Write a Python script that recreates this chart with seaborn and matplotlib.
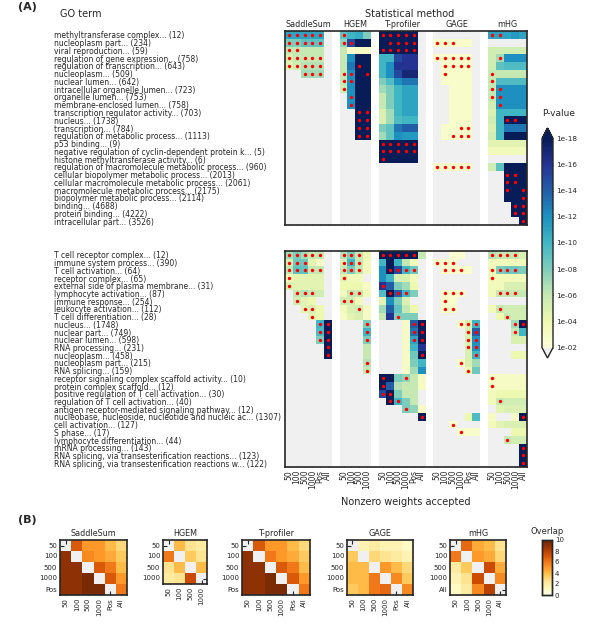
import numpy as np
import matplotlib
matplotlib.use("Agg")
import matplotlib.pyplot as plt
import seaborn as sns

# ---------------------------------------------------------------- data
# scores are -log10(P); 0 = not significant (grey); '*' = marked significant
methods = ["SaddleSum", "HGEM", "T-profiler", "GAGE", "mHG"]
settings = {
    "SaddleSum": ["50", "100", "500", "1000", "Pos", "All"],
    "HGEM": ["50", "100", "500", "1000"],
    "T-profiler": ["50", "100", "500", "1000", "Pos", "All"],
    "GAGE": ["50", "100", "500", "1000", "Pos", "All"],
    "mHG": ["50", "100", "500", "1000", "All"],
}

top_terms = [
    "methyltransferase complex... (12)", "nucleoplasm part... (234)",
    "viral reproduction... (59)", "regulation of gene expression... (758)",
    "regulation of transcription... (643)", "nucleoplasm... (509)",
    "nuclear lumen... (642)", "intracellular organelle lumen... (723)",
    "organelle lumen... (753)", "membrane-enclosed lumen... (758)",
    "transcription regulator activity... (703)", "nucleus... (1738)",
    "transcription... (784)", "regulation of metabolic process... (1113)",
    "p53 binding... (9)",
    "negative regulation of cyclin-dependent protein k... (5)",
    "histone methyltransferase activity... (6)",
    "regulation of macromolecule metabolic process... (960)",
    "cellular biopolymer metabolic process... (2013)",
    "cellular macromolecule metabolic process... (2061)",
    "macromolecule metabolic process... (2175)",
    "biopolymer metabolic process... (2114)", "binding... (4688)",
    "protein binding... (4222)", "intracellular part... (3526)",
]

top_saddlesum = [
    "11* 11* 11* 11* 11* 0", "8* 8* 9* 9* 9* 0", "6* 6* 6 6 6 0",
    "5* 6* 6* 6* 6* 0", "4.5* 5.5* 6.5* 6.5* 6.5* 0", "0 0 7* 7* 7* 0",
] + ["0 0 0 0 0 0"] * 19
top_hgem = [
    "9* 10 10.5 8", "7.5* 15* 18 18", "6 2.5 3 3", "6 12 18 18",
    "6 13 18* 18", "6* 12* 18 18*", "6* 12* 18 18", "5.5* 12 18 18",
    "0 12* 18 18", "0 12* 18 18", "0 0 18* 18*", "0 0 18* 18*",
    "0 0 18* 18*", "0 0 18* 18*",
] + ["0 0 0 0"] * 11
top_tprofiler = [
    "18* 18* 18* 18* 18* 0", "18 18* 18* 18* 18* 0", "18* 18* 18* 18* 18* 0",
    "10 10 15 16 16 0", "10 12 16 16 16 0", "10 12 15 17 17 0",
    "8 9.5 12 13 13 0", "7 8 10 11 11 0", "6 8 10 11 11 0",
    "6 8 10 11 11 0", "5 7 10 11 11 0", "5 7 9.5 10 10 0",
    "8 9 13 14 14 0", "7 9 12 11.5 11.5 0", "18* 18* 18* 18* 18* 0",
    "18* 18* 18* 18* 18* 0", "18* 18 18 18 18 0",
] + ["0 0 0 0 0 0"] * 8
top_gage = [
    "0 0 0 0 0 0", "2.8* 2.8* 2.8* 2.8 2.8 0", "0 0 0 0 0 0",
    "2.8* 2.8* 2.8* 2.8* 2.8* 0", "0 2.8* 2.8* 2.8* 2.8* 0", "0 2.8* 2.8 2.8 2.8 0",
    "0 2.8 2.8 2.8 2.8 0", "0 0 2.8 2.8 2.8 0", "0 0 2.8 2.8 2.8 0",
    "0 0 2.8 2.8 2.8 0", "0 0 2.8 2.8 2.8 0", "0 0 2.8 2.8 2.8 0",
    "0 2.8 2.8 2.8* 2.8* 0", "0 2.8 2.8* 2.8* 2.8* 0", "0 0 0 0 0 0",
    "0 0 0 0 0 0", "0 0 0 0 0 0", "2.8* 2.8* 2.8* 2.8* 2.8* 0",
] + ["0 0 0 0 0 0"] * 7
top_mhg = [
    "11* 11* 11 11.5 11", "0 0 0 0 0", "5.5 5.5 5.5 5.5 5.5",
    "5.5 7* 12 12 12", "5.5 9 9.5 9.5 9.5", "6* 6 6 6 6",
    "6* 9.5 9.5 9.5 9.5", "6* 12* 12 12 12", "6* 12* 12 12 12",
    "5.5 12* 12 12 12", "5 10 10 10 10", "5.5 10 18* 18* 18",
    "5 10 13 13 13", "5.5 10 18 18 18", "4.5 4.5 4.5 4.5 4.5",
    "3.5 3.5 3.5 3.5 3.5", "0 0 0 0 0", "5.5 9 18 18 18",
    "0 0 18* 18* 18", "0 0 18* 18* 18", "0 0 18* 18 18*",
    "0 0 18 18 18*", "0 0 0 18* 18*", "0 0 0 18* 18*", "0 0 0 0 18*",
]

bottom_terms = [
    "T cell receptor complex... (12)", "immune system process... (390)",
    "T cell activation... (64)", "receptor complex... (65)",
    "external side of plasma membrane... (31)", "lymphocyte activation... (87)",
    "immune response... (254)", "leukocyte activation... (112)",
    "T cell differentiation... (28)", "nucleus... (1748)",
    "nuclear part... (749)", "nuclear lumen... (598)",
    "RNA processing... (231)", "nucleoplasm... (458)",
    "nucleoplasm part... (215)", "RNA splicing... (159)",
    "receptor signaling complex scaffold activity... (10)",
    "protein complex scaffold... (12)",
    "positive regulation of T cell activation... (30)",
    "regulation of T cell activation... (40)",
    "antigen receptor-mediated signaling pathway... (12)",
    "nucleobase, nucleoside, nucleotide and nucleic ac... (1307)",
    "cell activation... (127)", "S phase... (17)",
    "lymphocyte differentiation... (44)", "mRNA processing... (143)",
    "RNA splicing, via transesterification reactions... (123)",
    "RNA splicing, via transesterification reactions w... (122)",
]

bottom_saddlesum = [
    "7* 8* 7* 6* 6* 0", "5* 8.5* 8.5* 4.5 3 0", "6* 9* 9* 6* 6* 0",
    "3.5* 4.5 4.5 4.5 4.5 0", "5* 4.5 4.5 4.5 4.5 0", "0 6* 6.5* 6* 5.5 0",
    "0 5.5* 4.5 4 0 0", "0 0 4.5* 5* 4 0", "0 0 0 4.5* 4 0",
    "0 0 0 0 10* 18*", "0 0 0 0 9.5* 18*", "0 0 0 0 8* 18*",
    "0 0 0 0 0 18*", "0 0 0 0 0 18*",
] + ["0 0 0 0 0 0"] * 14
bottom_hgem = [
    "6.5* 8* 6* 4", "5* 10* 6* 3.5", "6* 8* 6* 3.5", "4.5* 3.5 3.5 0",
    "4 4 4 3", "3.5 6* 6* 3.5", "5.5* 5.5* 3.5 0", "3.5 5 5.5* 3",
    "3 4.5 5 3", "0 0 0 8*", "0 0 0 10*", "0 0 0 8*", "0 0 0 6",
    "0 0 0 6", "0 0 0 6.5*", "0 0 0 6*",
] + ["0 0 0 0"] * 12
bottom_tprofiler = [
    "18* 18* 18* 18* 18* 6", "10 18 10 6 3.5 0", "12 18* 15* 10* 8.5* 0",
    "12 10 5 5 3.5 0", "16* 14 8 7 4 0", "9.5 18* 14* 10* 8 0",
    "4.5 12 8 5 0 0", "7 14 9 6 4 0", "6 16 8* 8 8 0",
    "0 0 0 3 14* 18*", "0 0 0 3 13* 18*", "0 0 0 3 11* 18*",
    "0 0 0 3 10 16", "0 0 0 3 8.5 18*", "0 0 0 3 8 10",
    "0 0 0 3 7 12", "18* 18 8 7.5* 6 3", "18* 14 6.5 6 6 3",
    "15* 18* 8 6 6 0", "0 18* 10* 8 6 0", "0 0 0 8* 7.5 3",
    "0 0 0 0 0 18*",
] + ["0 0 0 0 0 0"] * 6
bottom_gage = [
    "0 0 2.5 2.5 0 0", "2.8* 2.8* 2.8* 0 0 0", "0 2.8* 2.8* 2.8* 2.8 0",
    "0 0 0 0 0 0", "0 0 0 0 0 0", "0 2.8* 2.8* 2.8* 0 0",
    "0 2.8* 2.8 0 0 0", "0 2.8* 2.8* 0 0 0", "0 0 0 0 0 0",
    "0 0 0 2.8* 5* 10*", "0 0 0 0 5* 14*", "0 0 0 0 5* 12*",
    "0 0 0 0 5* 12*", "0 0 0 0 5 10*", "0 0 0 2.8* 5 7",
    "0 0 0 0 4* 8.5", "0 0 0 0 0 0", "0 0 0 0 0 0",
    "0 0 0 0 0 0", "0 0 0 0 0 0", "0 0 0 0 0 0",
    "0 0 0 0 4 9.5", "0 0 2.8* 0 0 0", "0 0 0 2.8* 2.8 2.8",
] + ["0 0 0 0 0 0"] * 4
bottom_mhg = [
    "6.5* 6* 6* 6* 5", "3.5 3.5 3.5 3.5 3.5", "3.5* 8* 8.5* 8.5* 8",
    "3.5* 3.5 3.5 3.5 3.5", "3.5 3.5 5 5 5", "3.5 6* 6* 6* 6",
    "0 0 0 0 0", "3.5 6* 5.5 5.5 5.5", "0 4 6* 5.5 5.5",
    "0 0 0 7* 18*", "0 0 0 6* 10", "0 0 0 5 5",
    "0 0 0 0 0", "0 0 0 4 4", "0 0 0 0 0", "0 0 0 0 0",
    "3* 3 3 3 3", "3* 3 3 3 3", "3.5 4 4 4 4",
    "3.5 6* 5.5 5.5 5.5", "0 4.5 5 5 5", "3 0 0 3 18*",
    "3.5 4.5 5 5 5", "0 0 0 4 4", "0 0 6* 5.5 5.5",
    "0 0 0 0 18*", "0 0 0 0 18*", "0 0 0 0 18*",
]

# overlap of top-10 term lists between settings (diagonal blank)
nan = np.nan
overlap_saddlesum = [
    [nan, 7, 5, 5, 4, 3],
    [9, nan, 5.5, 5, 4.5, 3.5],
    [9, 9, nan, 7, 6, 4],
    [9, 9, 9.5, nan, 7, 5],
    [9, 9, 9.5, 9.5, nan, 6],
]
overlap_hgem = [
    [nan, 4, 2.5, 2],
    [6, nan, 3.5, 2.5],
    [2.5, 4, nan, 4],
    [2, 2.5, 7.5, nan],
]
overlap_tprofiler = [
    [nan, 7, 5, 5, 4, 3],
    [9, nan, 6, 5, 4.5, 3.5],
    [9, 9, nan, 7, 6, 4],
    [9, 9, 9.5, nan, 7, 5],
    [9, 9, 9.5, 9.5, nan, 6],
]
overlap_gage = [
    [nan, 1.5, 2, 1.5, 1.5, 1],
    [3.5, nan, 3, 2.5, 2, 1.5],
    [4, 4, nan, 5, 4, 3],
    [4, 4, 6, nan, 5.5, 3.5],
    [3.5, 4, 6, 6.5, nan, 5.5],
]
overlap_mhg = [
    [nan, 6.5, 4.5, 4, 2.5],
    [6, nan, 5, 4.5, 3],
    [2, 3.5, nan, 7.5, 4.5],
    [1.5, 2.5, 7.5, nan, 5.5],
    [1, 2, 5.5, 8, nan],
]


def parse(rows):
    vals = [[float(t.rstrip("*")) for t in r.split()] for r in rows]
    marks = [[t.endswith("*") for t in r.split()] for r in rows]
    return np.array(vals), np.array(marks)


def assemble(blocks):
    # put method blocks side by side with one blank column between them
    vals, marks = [], []
    for i, rows in enumerate(blocks):
        v, m = parse(rows)
        if i > 0:
            vals.append(np.full((len(v), 1), np.nan))
            marks.append(np.zeros((len(v), 1), bool))
        vals.append(v)
        marks.append(m)
    return np.hstack(vals), np.hstack(marks)


# ---------------------------------------------------------------- figure
W, H = 602, 628
fig = plt.figure(figsize=(W / 100, H / 100), dpi=100)
sns.set_style("white")
plt.rcParams["font.family"] = ["DejaVu Sans"]


def box(x0, y0, x1, y1):
    return [x0 / W, 1 - y1 / H, (x1 - x0) / W, (y1 - y0) / H]


pcmap = plt.get_cmap("YlGnBu").copy()
pcmap.set_under("#f0f0f0")
pcmap.set_over("#081d58")

# column bookkeeping
col_labels, col_pos, centers = [], [], []
x = 0
for m in methods:
    n = len(settings[m])
    centers.append(x + n / 2)
    col_labels += settings[m]
    col_pos += list(np.arange(x, x + n) + 0.5)
    x += n + 1

cax = fig.add_axes(box(542, 128, 553, 358))
panels = [
    (top_terms, [top_saddlesum, top_hgem, top_tprofiler, top_gage, top_mhg], (285, 31, 527, 225)),
    (bottom_terms, [bottom_saddlesum, bottom_hgem, bottom_tprofiler, bottom_gage, bottom_mhg], (285, 251, 527, 467)),
]
for k, (terms, blocks, pos) in enumerate(panels):
    ax = fig.add_axes(box(*pos))
    vals, marks = assemble(blocks)
    sns.heatmap(vals, ax=ax, cmap=pcmap, vmin=2, vmax=18,
                cbar=(k == 0), cbar_ax=cax if k == 0 else None,
                cbar_kws={"extend": "both", "ticks": np.arange(2, 19, 2)},
                xticklabels=False, yticklabels=False)
    ys, xs = np.where(marks)
    ax.scatter(xs + 0.5, ys + 0.5, s=6, c="red", linewidths=0, zorder=3)
    for sp in ax.spines.values():
        sp.set_visible(True)
        sp.set_linewidth(1.2)
    ax.set_yticks(np.arange(len(terms)) + 0.5)
    ax.set_yticklabels(terms, fontsize=5.5, ha="left", rotation=0)
    ax.tick_params(axis="y", length=0, pad=(pos[0] - 54) * 0.72)
    ax.set_xticks(col_pos)
    ax.set_xticklabels(col_labels if k == 1 else [], rotation=90, fontsize=5.5)
    ax.tick_params(axis="x", top=True, bottom=True, direction="in",
                   length=3, width=0.7, pad=2)
    if k == 0:
        for c, m in zip(centers, methods):
            ax.text(c, 1.01, m, transform=ax.get_xaxis_transform(),
                    ha="center", va="bottom", fontsize=5.8)

cax.set_yticklabels(["1e-%02d" % v for v in range(2, 19, 2)], fontsize=5.2)
cax.tick_params(direction="in", length=3, width=0.7, pad=2)
for sp in cax.spines.values():
    sp.set_linewidth(1)

fig.text(18 / W, 1 - 7 / H, "(A)", fontsize=8, fontweight="bold", va="center")
fig.text(60 / W, 1 - 14 / H, "GO term", fontsize=7, va="center")
fig.text(410 / W, 1 - 14 / H, "Statistical method", fontsize=7, ha="center", va="center")
fig.text(406 / W, 1 - 502 / H, "Nonzero weights accepted", fontsize=7, ha="center", va="center")
fig.text(542 / W, 1 - 113 / H, "P-value", fontsize=6.5, va="center")

# ---------------------------------------------------------------- panel B
ocmap = plt.get_cmap("YlOrBr")
overlaps = [overlap_saddlesum, overlap_hgem, overlap_tprofiler, overlap_gage, overlap_mhg]
xspans = [(60, 127), (163, 207), (242, 310), (347, 413), (450, 506)]
ocax = fig.add_axes(box(542, 540, 552, 595))
for i, (m, ov, (x0, x1)) in enumerate(zip(methods, overlaps, xspans)):
    ov = np.array(ov, dtype=float)
    nr, nc = ov.shape
    ax = fig.add_axes(box(x0, 540, x1, 540 + 11 * nr))
    sns.heatmap(ov, ax=ax, cmap=ocmap, vmin=0, vmax=10,
                cbar=(i == 0), cbar_ax=ocax if i == 0 else None,
                cbar_kws={"ticks": np.arange(0, 11, 2)},
                xticklabels=settings[m][:nc], yticklabels=settings[m][:nr])
    ax.set_facecolor("#f0f0f0")
    for sp in ax.spines.values():
        sp.set_visible(True)
        sp.set_linewidth(1.2)
    ax.tick_params(top=True, right=True, left=True, bottom=True, direction="in",
                   length=3, width=0.8, labelsize=5, pad=2)
    ax.set_xticklabels(settings[m][:nc], rotation=90)
    ax.set_yticklabels(settings[m][:nr], rotation=0)
    ax.set_title(m, fontsize=5.8, pad=3)

ocax.tick_params(direction="in", length=3, width=0.7, labelsize=5, pad=2)
for sp in ocax.spines.values():
    sp.set_visible(True)
    sp.set_linewidth(1)
fig.text(18 / W, 1 - 520 / H, "(B)", fontsize=8, fontweight="bold", va="center")
fig.text(547 / W, 1 - 531 / H, "Overlap", fontsize=6, ha="center", va="center")

fig.savefig("out.png", dpi=100)
